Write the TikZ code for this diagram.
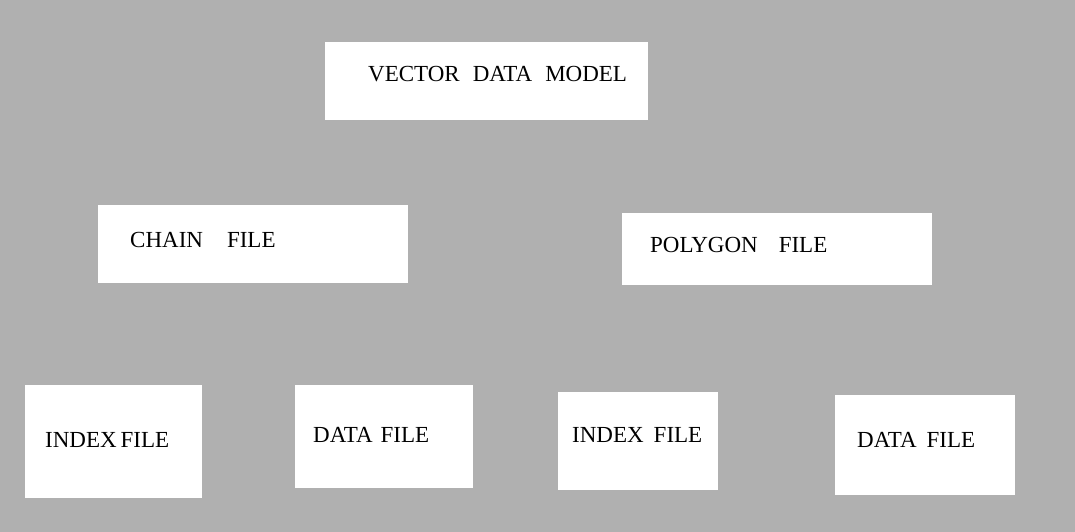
\documentclass[tikz,border=0pt]{standalone}
\usepackage{fontspec}
\setmainfont{Liberation Serif}
\definecolor{bggray}{RGB}{176,176,176}
\begin{document}
\begin{tikzpicture}[x=1pt,y=1pt,
  box/.style={fill=white,draw=none,inner sep=0pt,anchor=north west},
  lbl/.style={inner sep=0pt,anchor=base west,font=\fontsize{23}{25}\selectfont}]
\fill[bggray] (0,0) rectangle (1075,-532);
\useasboundingbox (0,0) rectangle (1075,-532);
% boxes
\node[box,minimum width=323pt,minimum height=78pt] (vdm) at (325,-42) {};
\node[box,minimum width=310pt,minimum height=78pt] (chain) at (98,-205) {};
\node[box,minimum width=310pt,minimum height=72pt] (poly) at (622,-213) {};
\node[box,minimum width=177pt,minimum height=113pt] (idx1) at (25,-385) {};
\node[box,minimum width=178pt,minimum height=103pt] (dat1) at (295,-385) {};
\node[box,minimum width=160pt,minimum height=98pt] (idx2) at (558,-392) {};
\node[box,minimum width=180pt,minimum height=100pt] (dat2) at (835,-395) {};
% labels
\node[lbl] (vdmt) at (368,-82) {VECTOR\hspace{13pt}DATA\hspace{13pt}MODEL};
\node[lbl] (chaint) at (130,-247) {CHAIN\hspace{24pt}FILE};
\node[lbl] (polyt) at (650,-252) {POLYGON\hspace{21pt}FILE};
\node[lbl] (idx1t) at (45,-447) {INDEX\hspace{4pt}FILE};
\node[lbl] (dat1t) at (313,-442) {DATA\hspace{8pt}FILE};
\node[lbl] (idx2t) at (572,-442) {INDEX\hspace{10pt}FILE};
\node[lbl] (dat2t) at (857,-447) {DATA\hspace{10pt}FILE};
\end{tikzpicture}
\end{document}
